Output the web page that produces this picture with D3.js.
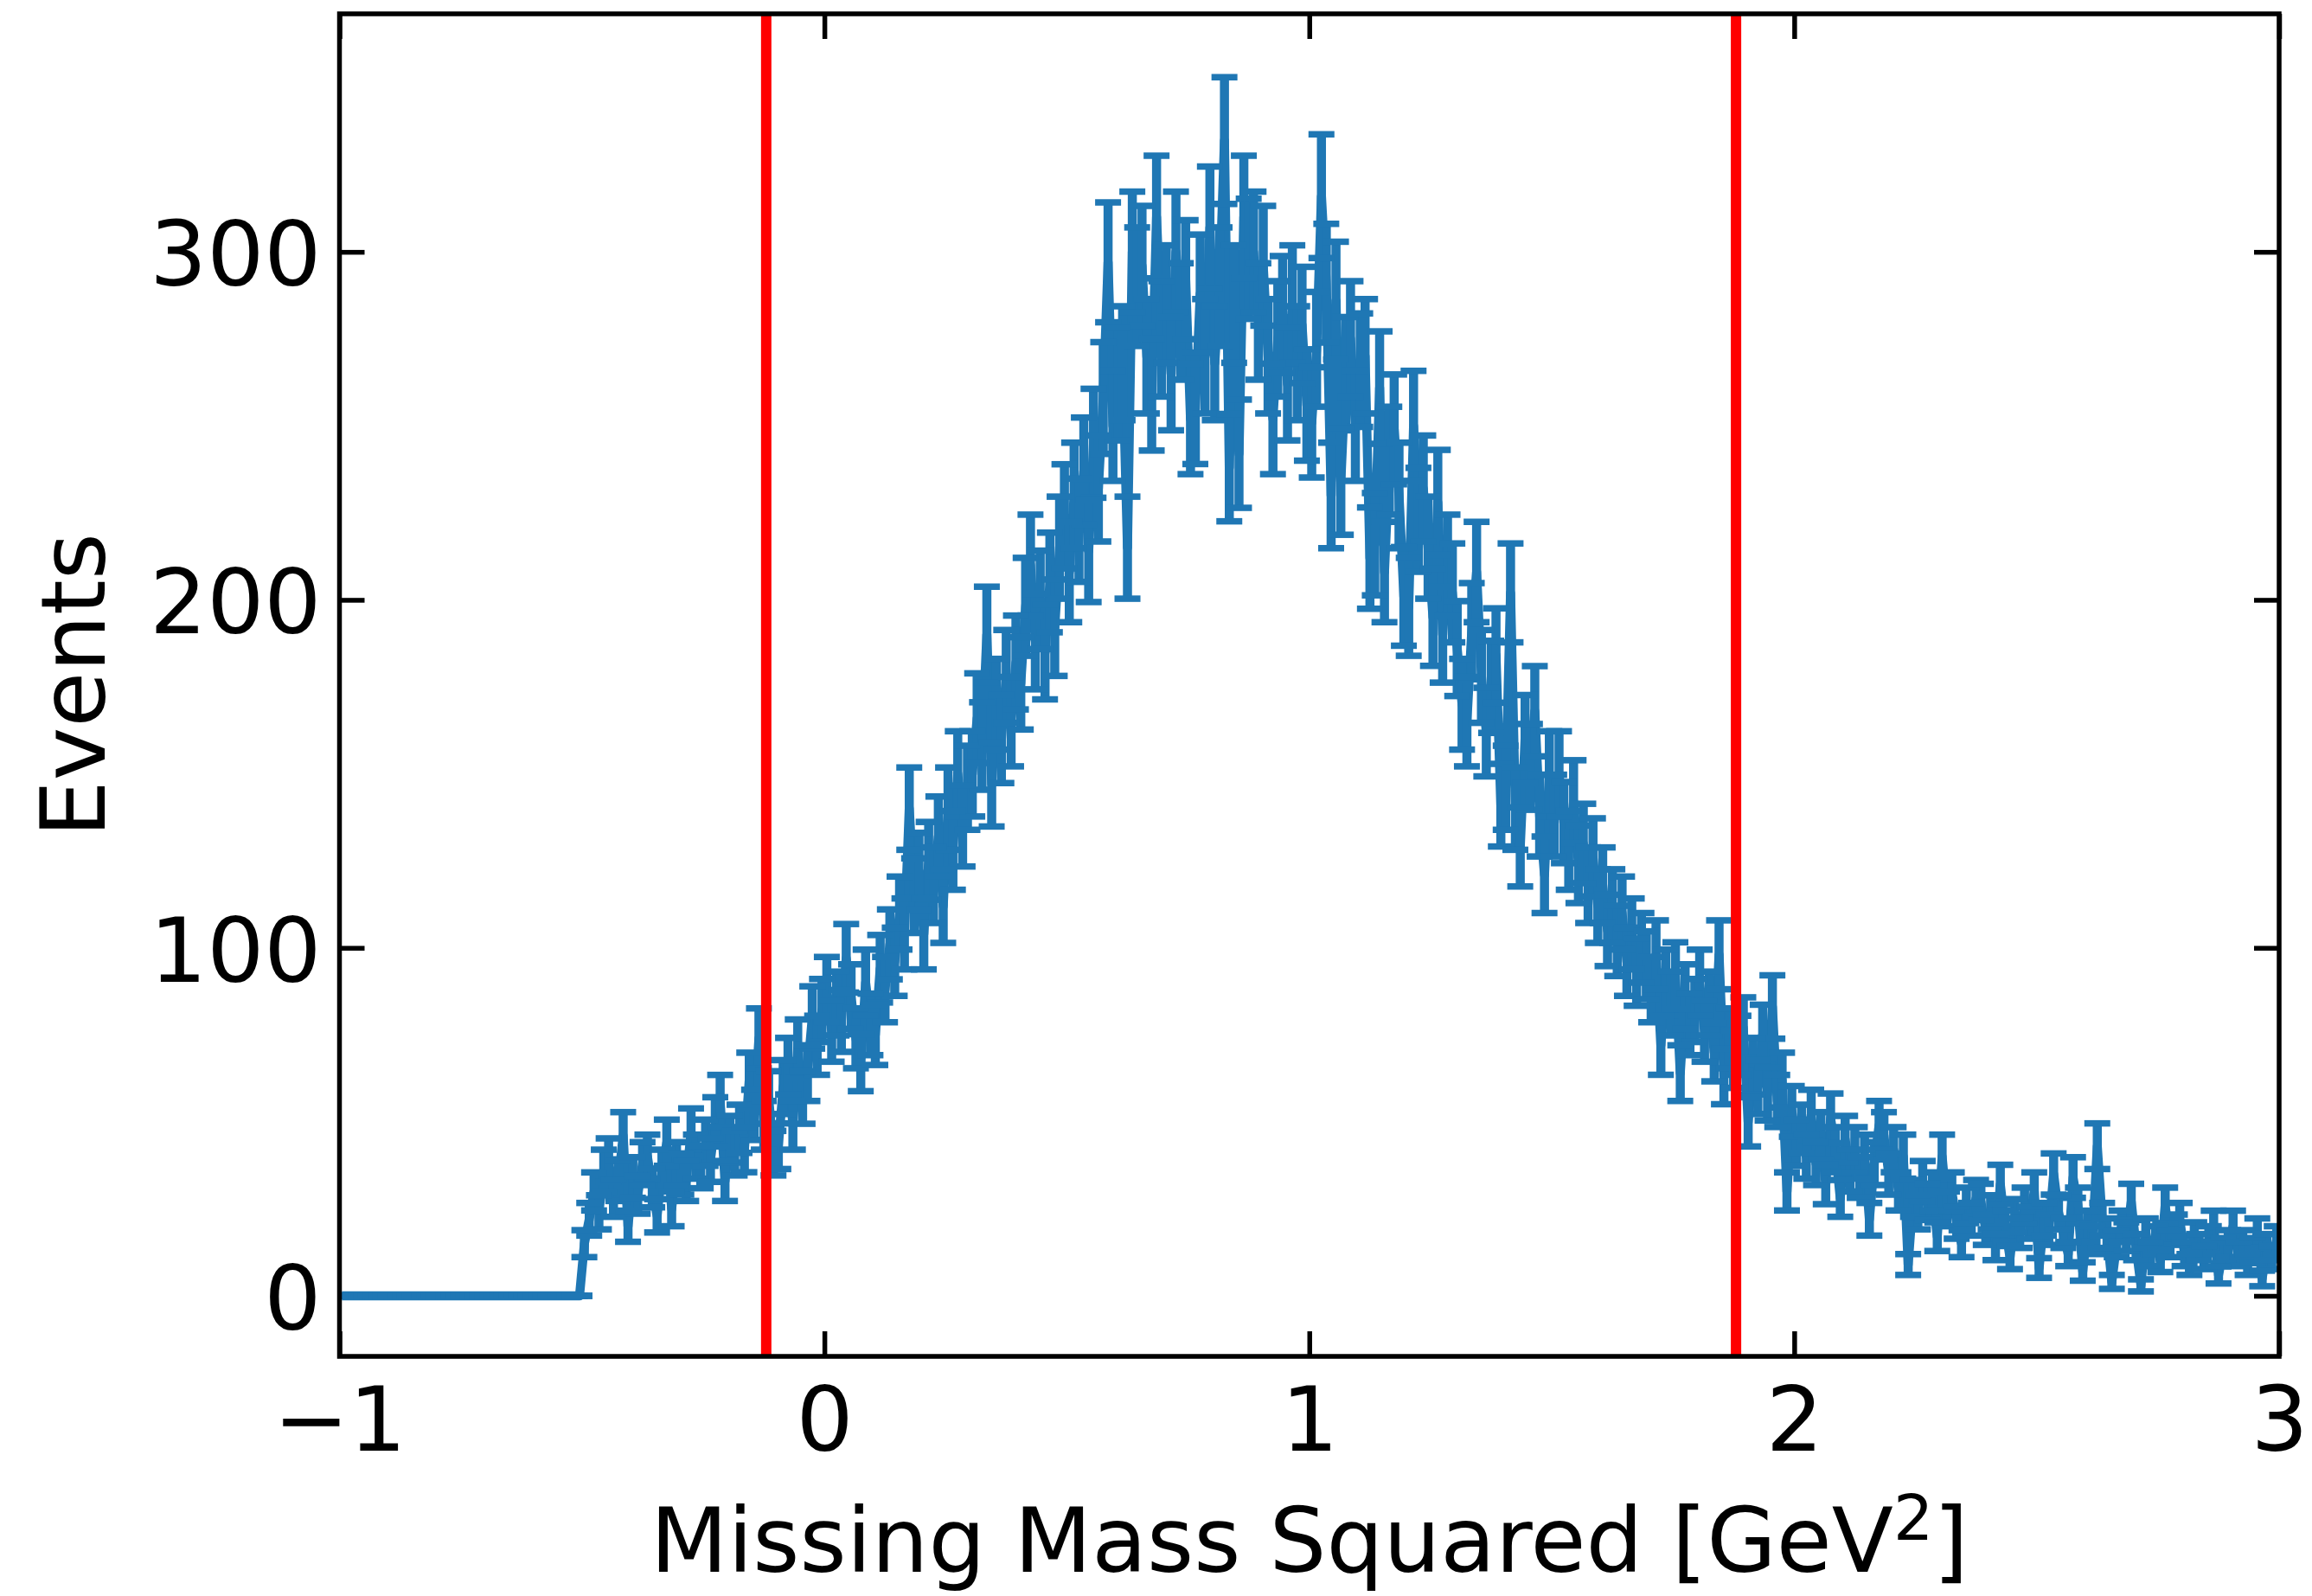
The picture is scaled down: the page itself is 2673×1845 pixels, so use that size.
<!DOCTYPE html>
<html><head><meta charset="utf-8">
<script src="https://cdn.jsdelivr.net/npm/d3@7"></script>
<style>
html,body{margin:0;padding:0;background:#fff;}
svg{display:block;}
text{font-family:"DejaVu Sans",sans-serif;}
</style>
</head><body>
<svg id="chart" width="2673" height="1845"></svg>
<script>
// ---------------- data ----------------
// histogram: 400 bins of width 0.01 GeV^2 from -1 to 3 (one row = 0.1 GeV^2)
const binLow = -1.0;
const binWidth = 0.01;
const counts = [
  0,0,0,0,0,0,0,0,0,0,            // -1.0
  0,0,0,0,0,0,0,0,0,0,            // -0.9
  0,0,0,0,0,0,0,0,0,0,            // -0.8
  0,0,0,0,0,0,0,0,0,0,            // -0.7
  0,0,0,0,0,0,0,0,0,0,            // -0.6
  15,22,30,24,36,39,28,33,46,20,  // -0.5
  34,29,38,40,31,23,36,44,25,38,  // -0.4
  35,33,47,40,37,44,39,50,56,33,  // -0.3
  45,41,48,42,62,52,74,49,57,41,  // -0.2
  43,60,66,49,71,57,64,80,72,82,  // -0.1
  88,76,84,79,97,86,74,67,90,78,  // 0.0
  75,94,88,101,96,110,104,140,115,122,   // 0.1
  104,125,118,132,112,140,128,150,135,146, // 0.2
  150,166,158,190,147,170,160,178,165,182, // 0.3
  176,198,210,188,200,185,205,192,215,224, // 0.4
  208,230,220,237,214,245,232,258,297,250, // 0.5
  262,268,215,300,290,296,270,259,310,275, // 0.6
  285,265,300,280,292,252,255,288,270,307, // 0.7
  268,290,332,238,285,242,310,298,300,280, // 0.8
  296,270,252,275,282,262,285,268,279,256, // 0.9
  251,272,316,291,230,286,234,265,275,250, // 1.0
  266,270,212,216,261,208,240,249,230,201, // 1.1
  198,250,223,232,215,195,228,190,210,202, // 1.2
  186,170,165,191,208,178,162,175,184,141, // 1.3
  146,202,140,129,160,152,168,138,121,150, // 1.4
  138,150,136,128,142,124,130,118,126,112, // 1.5
  118,105,112,102,110,96,104,93,100,95,    // 1.6
  88,98,72,90,84,92,64,86,78,82,           // 1.7
  90,76,84,70,98,63,74,68,72,77,           // 1.8
  50,66,60,75,58,83,56,62,30,53,           // 1.9
  44,48,40,52,38,46,32,51,42,28,           // 2.0
  45,36,42,34,40,22,38,49,46,35,           // 2.1
  42,30,40,9,28,24,33,27,30,17,            // 2.2
  40,25,30,21,15,26,22,28,27,19,           // 2.3
  24,14,32,20,11,23,18,26,21,30,           // 2.4
  8,22,19,35,24,18,12,34,26,7,             // 2.5
  20,16,43,22,18,4,15,20,17,27,            // 2.6
  14,3,18,12,16,10,26,15,19,22,            // 2.7
  12,9,17,14,11,16,20,6,13,15,             // 2.8
  20,12,15,9,13,18,5,14,11,16              // 2.9
];
const xTicks = [-1, 0, 1, 2, 3];
const yTicks = [0, 100, 200, 300];
const xDomain = [-1, 3];
const yDomain = [-17.4, 368.4];
const cutLines = [-0.12, 1.88];
const xLabelMain = "Missing Mass Squared [GeV";
const xLabelSup = "2";
const xLabelEnd = "]";
const yLabel = "Events";

// ---------------- layout ----------------
const L = 392.5, R = 2635, T = 16, B = 1568;
const FS = 104;
const blue = "#1f77b4";

const svg = d3.select("#chart");
svg.append("rect").attr("width", 2673).attr("height", 1845).attr("fill", "#fff");

svg.append("defs").append("clipPath").attr("id", "plotClip")
  .append("rect").attr("x", L).attr("y", T).attr("width", R - L).attr("height", B - T);

const x = d3.scaleLinear().domain(xDomain).range([L, R]);
const y = d3.scaleLinear().domain(yDomain).range([B, T]);

const points = counts.map((c, i) => ({
  x: binLow + binWidth * (i + 0.5),
  v: c,
  e: Math.sqrt(c)
}));

const fmt = d => d < 0 ? "\u2212" + Math.abs(d) : String(d);

function styleAxis(g) {
  g.select(".domain").remove();
  g.selectAll(".tick line").attr("stroke", "#000").attr("stroke-width", 5.5);
  g.attr("font-family", "DejaVu Sans, sans-serif").attr("font-size", FS);
  g.selectAll(".tick text").attr("fill", "#000");
}

// ticks (inward, all four sides) – drawn below data
const gBottom = svg.append("g").attr("transform", `translate(0,${B})`)
  .call(d3.axisBottom(x).tickValues(xTicks).tickSize(-29).tickFormat(fmt));
styleAxis(gBottom);
gBottom.selectAll(".tick text").attr("y", 109).attr("dy", 0);

const gTop = svg.append("g").attr("transform", `translate(0,${T})`)
  .call(d3.axisTop(x).tickValues(xTicks).tickSize(-29).tickFormat(""));
styleAxis(gTop);

const gLeft = svg.append("g").attr("transform", `translate(${L},0)`)
  .call(d3.axisLeft(y).tickValues(yTicks).tickSize(-29).tickPadding(20).tickFormat(fmt));
styleAxis(gLeft);
gLeft.selectAll(".tick text").attr("x", -21).attr("dy", "0.37em");

const gRight = svg.append("g").attr("transform", `translate(${R},0)`)
  .call(d3.axisRight(y).tickValues(yTicks).tickSize(-29).tickFormat(""));
styleAxis(gRight);

// ---------------- data (errorbar) ----------------
const gData = svg.append("g").attr("clip-path", "url(#plotClip)");
gData.append("path")
  .datum(points)
  .attr("fill", "none")
  .attr("stroke", blue)
  .attr("stroke-width", 10.5)
  .attr("stroke-linejoin", "round")
  .attr("d", d3.line().x(d => x(d.x)).y(d => y(d.v)));

gData.selectAll("line.err").data(points).join("line")
  .attr("class", "err")
  .attr("x1", d => x(d.x)).attr("x2", d => x(d.x))
  .attr("y1", d => y(d.v - d.e)).attr("y2", d => y(d.v + d.e))
  .attr("stroke", blue).attr("stroke-width", 10.5);

const capHalf = 15;
["lo", "hi"].forEach(k => {
  gData.selectAll("line.cap" + k).data(points).join("line")
    .attr("class", "cap" + k)
    .attr("x1", d => x(d.x) - capHalf).attr("x2", d => x(d.x) + capHalf)
    .attr("y1", d => y(k === "lo" ? d.v - d.e : d.v + d.e))
    .attr("y2", d => y(k === "lo" ? d.v - d.e : d.v + d.e))
    .attr("stroke", blue).attr("stroke-width", 7.5);
});

// ---------------- cut lines ----------------
svg.append("g").selectAll("line").data(cutLines).join("line")
  .attr("x1", d => x(d)).attr("x2", d => x(d))
  .attr("y1", T).attr("y2", B)
  .attr("stroke", "#ff0000").attr("stroke-width", 12);

// ---------------- spines ----------------
svg.append("rect")
  .attr("x", L).attr("y", T).attr("width", R - L).attr("height", B - T)
  .attr("fill", "none").attr("stroke", "#000").attr("stroke-width", 5.5);

// ---------------- labels ----------------
const xl = svg.append("text")
  .attr("x", (L + R) / 2).attr("y", 1817)
  .attr("text-anchor", "middle").attr("font-size", FS).attr("fill", "#000");
xl.append("tspan").text(xLabelMain);
xl.append("tspan").attr("font-size", FS * 0.7).attr("dy", -37).text(xLabelSup);
xl.append("tspan").attr("dy", 37).text(xLabelEnd);

svg.append("text")
  .attr("transform", `translate(121,${(T + B) / 2}) rotate(-90)`)
  .attr("text-anchor", "middle").attr("font-size", FS).attr("fill", "#000")
  .text(yLabel);
</script>
</body></html>
